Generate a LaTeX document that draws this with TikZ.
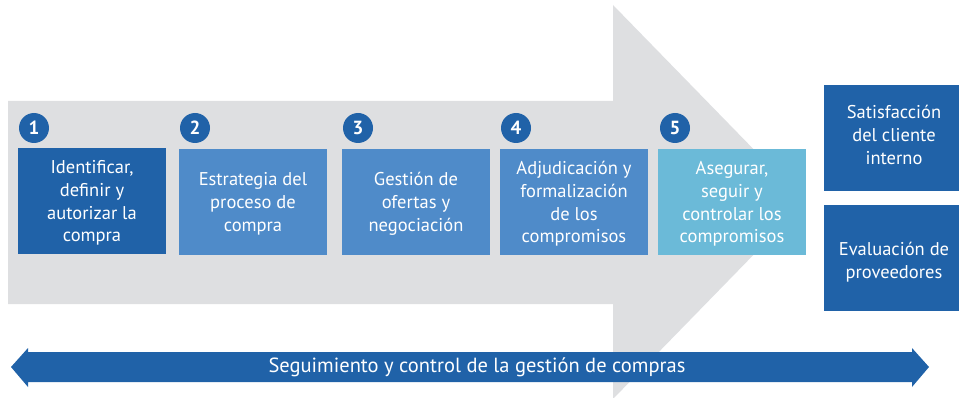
\documentclass[tikz,border=0pt]{standalone}
\usepackage{fontspec}
\setmainfont{PT Sans}
\definecolor{dblue}{HTML}{2062A8}
\definecolor{mblue}{HTML}{4F8BC9}
\definecolor{lblue}{HTML}{6BBAD8}
\definecolor{lgrey}{HTML}{DEDFE1}
\tikzset{
  stepbox/.style={fill=#1, text=white, inner sep=0pt, minimum width=148pt, minimum height=106pt, align=center, font=\fontsize{18.5}{22.7}\selectfont},
  sidebox/.style={fill=dblue, text=white, inner sep=0pt, minimum width=140pt, minimum height=106pt, align=center, font=\fontsize{18.5}{22.7}\selectfont},
  numdot/.style={circle, fill=dblue, text=white, inner sep=0pt, minimum size=30pt, font=\bfseries\fontsize{19}{19}\selectfont},
  boxtext/.style={text=white, inner sep=0pt, align=center, font=\fontsize{18.5}{22.7}\selectfont}
}
\begin{document}
\begin{tikzpicture}[x=1pt,y=-1pt]
\useasboundingbox (0,0) rectangle (959,398);
% big grey arrow
\fill[lgrey] (8,101) -- (613,101) -- (613,5) -- (805,202) -- (613,399) -- (613,304) -- (8,304) -- cycle;
% step boxes
\node[stepbox=dblue] (b1) at (92,201) {};
\node[stepbox=mblue] (b2) at (253,202) {};
\node[stepbox=mblue] (b3) at (416,202) {};
\node[stepbox=mblue] (b4) at (574,202) {};
\node[stepbox=lblue] (b5) at (732,202) {};
\node[boxtext] (t1) at ([yshift=-2pt]b1.center) {Identificar,\\definir y\\autorizar la\\compra};
\node[boxtext] (t2) at ([yshift=-2pt]b2.center) {Estrategia del\\proceso de\\compra};
\node[boxtext] (t3) at ([yshift=-2pt]b3.center) {Gestión de\\ofertas y\\negociación};
\node[boxtext] (t4) at ([yshift=-2pt]b4.center) {Adjudicación y\\formalización\\de los\\compromisos};
\node[boxtext] (t5) at ([yshift=-2pt]b5.center) {Asegurar,\\seguir y\\controlar los\\compromisos};
% numbers
\node[numdot] (n1) at (34,128) {1};
\node[numdot] (n2) at (195,128) {2};
\node[numdot] (n3) at (358,128) {3};
\node[numdot] (n4) at (516,128) {4};
\node[numdot] (n5) at (675,128) {5};
% side boxes
\node[sidebox] (s1) at (894,138) {};
\node[sidebox] (s2) at (894,258) {};
\node[boxtext] (u1) at ([yshift=3pt]s1.center) {Satisfacción\\del cliente\\interno};
\node[boxtext] (u2) at ([yshift=-4pt]s2.center) {Evaluación de\\proveedores};
% bottom double arrow
\fill[dblue] (11,367) -- (28,348) -- (28,352) -- (912,352) -- (912,348) -- (929,367) -- (912,387) -- (912,382) -- (28,382) -- (28,387) -- cycle;
\node[text=white, inner sep=0pt, font=\fontsize{20.5}{24}\selectfont] (lbl) at (477,367) {Seguimiento y control de la gestión de compras};
\end{tikzpicture}
\end{document}
